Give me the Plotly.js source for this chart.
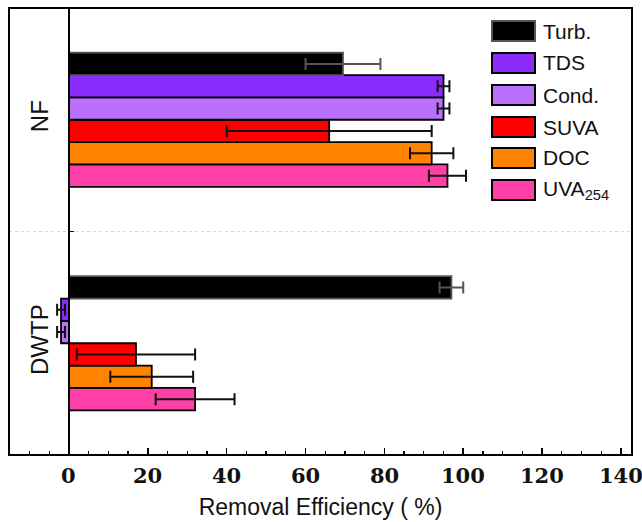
<!DOCTYPE html>
<html><head><meta charset="utf-8">
<script src="https://cdn.plot.ly/plotly-3.0.1.min.js"></script>
<style>body{margin:0;background:#fff}#c{width:642px;height:522px}</style>
</head><body><div id="c"></div>
<script>
const categories = ['DWTP', 'NF'];
const seriesNames = ['Turb.', 'TDS', 'Cond.', 'SUVA', 'DOC', 'UVA<sub>254</sub>'];
const turb = [97, 69.5];   const turbErr = [3, 9.5];
const tds = [-2, 95];      const tdsErr = [1, 1.5];
const cond = [-2, 95];     const condErr = [1, 1.5];
const suva = [17, 66];     const suvaErr = [15, 26];
const doc = [21, 92];      const docErr = [10.5, 5.5];
const uva = [32, 96];      const uvaErr = [10, 4.7];
const xTicks = [0, 20, 40, 60, 80, 100, 120, 140];

const colors = ['#000000', '#8a2cfc', '#bb70fc', '#ff0000', '#ff8200', '#ff40a6'];
const lineColors = ['#555555', '#000', '#000', '#000', '#000', '#000'];
const values = [turb, tds, cond, suva, doc, uva];
const errs = [turbErr, tdsErr, condErr, suvaErr, docErr, uvaErr];

const traces = [];
for (let i = seriesNames.length - 1; i >= 0; i--) {
  traces.push({
    type: 'bar', orientation: 'h', name: seriesNames[i],
    y: categories, x: values[i],
    marker: {color: colors[i], line: {color: lineColors[i], width: 1.8}},
    error_x: {type: 'data', array: errs[i], visible: true,
              color: i === 0 ? '#555' : '#111', thickness: 2, width: 6},
    showlegend: false
  });
}

const xr = [-15.2, 142.8];
const pos = (0 - xr[0]) / (xr[1] - xr[0]);

const shapes = [
  {type: 'rect', xref: 'paper', yref: 'paper', x0: 0, x1: 1, y0: 0, y1: 1,
   line: {color: '#000', width: 2}},
  {type: 'line', xref: 'paper', yref: 'y', x0: 0, x1: 1, y0: 0.5, y1: 0.5,
   line: {color: '#d8d8d8', width: 1, dash: 'dot'}, layer: 'below'}
];
const annotations = [];
const H = 447, W = 623;
const ycs = [31, 63, 95, 127, 158, 190];
for (let i = 0; i < seriesNames.length; i++) {
  const yc = (455 - ycs[i]) / H;
  const hh = 10 / H;
  shapes.push({type: 'rect', xref: 'paper', yref: 'paper',
    x0: (492 - 9) / W, x1: (535 - 9) / W, y0: yc - hh, y1: yc + hh,
    fillcolor: colors[i], line: {color: i === 0 ? '#555' : '#000', width: 2}});
  annotations.push({xref: 'paper', yref: 'paper', x: (541 - 9) / W, y: yc,
    xanchor: 'left', yanchor: 'middle', showarrow: false, text: seriesNames[i],
    font: {family: 'Liberation Sans', size: 21, color: '#111'}});
}
// x tick labels (bold serif) placed at the axis values
for (const v of xTicks) {
  annotations.push({xref: 'x', yref: 'paper', x: v, y: 0, yanchor: 'top', xanchor: 'center',
    yshift: -6, showarrow: false, text: '<b>' + v + '</b>',
    font: {family: 'DejaVu Serif', size: 21, color: '#111'}});
}

const layout = {
  width: 642, height: 522,
  margin: {l: 9, r: 10, t: 8, b: 67},
  paper_bgcolor: '#fff', plot_bgcolor: '#fff',
  barmode: 'group', bargap: 0.4, bargroupgap: 0,
  showlegend: false,
  xaxis: {
    range: xr, tickmode: 'array', tickvals: xTicks, showticklabels: false,
    ticks: 'inside', ticklen: 7, tickwidth: 1.5,
    tickcolor: '#000', showgrid: false, zeroline: false, showline: false,
    title: {text: 'Removal Efficiency ( %)', standoff: 43,
            font: {family: 'Liberation Sans', size: 23, color: '#111'}}
  },
  xaxis2: {
    overlaying: 'x', matches: 'x', anchor: 'y', side: 'bottom',
    range: xr, tickmode: 'linear', tick0: 0, dtick: 5,
    ticks: 'inside', ticklen: 4, tickwidth: 1.2, tickcolor: '#000',
    showticklabels: false, showgrid: false, zeroline: false, showline: false
  },
  yaxis: {
    type: 'category', categoryorder: 'array', categoryarray: categories,
    range: [-0.5, 1.5],
    anchor: 'free', position: pos, side: 'left',
    showline: true, linecolor: '#000', linewidth: 2,
    ticks: 'inside', tickson: 'boundaries', ticklen: 4, tickcolor: '#000',
    showgrid: false, zeroline: false, tickangle: -90,
    ticklabelstandoff: 10,
    tickfont: {family: 'Liberation Sans', size: 24, color: '#111'}
  },
  shapes: shapes,
  annotations: annotations
};

traces.push({type: 'scatter', x: [xr[0]], y: [categories[0]], xaxis: 'x2', yaxis: 'y',
  mode: 'markers', marker: {opacity: 0}, showlegend: false, hoverinfo: 'skip'});

Plotly.newPlot('c', traces, layout, {displayModeBar: false, staticPlot: true});
</script></body></html>
